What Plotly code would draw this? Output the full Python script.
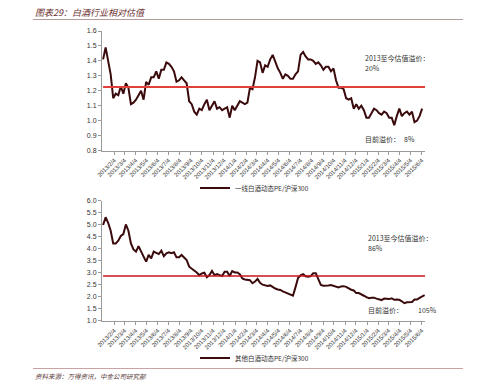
import pandas as pd
import plotly.graph_objects as go

# ---- data ----
tick_dates = pd.date_range("2013-01-04", "2015-06-04", freq="MS") + pd.Timedelta(days=3)
tick_labels = [f"{d.year}/{d.month}/4" for d in tick_dates]

top_name = "一线白酒动态PE/沪深300"
top_vals = [1.41,1.49,1.40,1.31,1.15,1.18,1.17,1.23,1.18,1.25,1.22,
            1.11,1.12,1.14,1.17,1.20,1.14,1.26,1.24,1.29,1.29,1.33,
            1.28,1.34,1.34,1.39,1.38,1.36,1.33,1.26,1.27,1.29,1.27,
            1.25,1.13,1.11,1.06,1.04,1.08,1.07,1.11,1.14,1.07,
            1.10,1.13,1.08,1.09,1.07,1.08,1.09,1.02,1.10,1.07,
            1.10,1.13,1.12,1.11,1.12,1.22,1.21,1.29,1.40,1.39,
            1.32,1.37,1.36,1.41,1.44,1.39,1.35,1.32,1.28,1.31,
            1.30,1.28,1.28,1.31,1.33,1.44,1.46,1.43,1.41,1.41,
            1.40,1.38,1.39,1.37,1.34,1.36,1.36,1.33,1.35,1.27,
            1.22,1.22,1.21,1.15,1.14,1.15,1.08,1.11,1.08,1.10,
            1.07,1.02,1.02,1.05,1.08,1.07,1.05,1.04,1.06,1.05,
            1.02,1.02,0.97,1.03,1.08,1.03,1.05,1.06,1.04,1.06,
            0.99,1.00,1.03,1.08]
top_avg = 1.225

bot_name = "其他白酒动态PE/沪深300"
bot_vals = [4.99,5.31,5.08,4.75,4.22,4.22,4.33,4.53,4.61,5.01,
            4.75,4.22,3.97,3.88,4.11,3.92,3.67,3.46,3.74,3.60,
            3.88,3.83,3.78,3.92,3.69,3.81,3.85,3.81,3.85,3.64,
            3.64,3.74,3.64,3.53,3.25,3.18,3.08,3.01,2.90,2.97,
            3.00,2.81,2.90,3.07,2.90,2.94,2.90,2.86,3.04,3.04,
            2.86,3.07,3.01,3.01,2.94,2.76,2.72,2.69,2.69,2.56,
            2.63,2.74,2.58,
            2.50,2.46,2.45,2.47,2.40,2.34,2.30,2.28,2.22,2.17,
            2.13,2.09,2.04,2.40,2.78,2.89,2.94,2.85,2.83,2.86,
            2.98,2.98,2.70,2.49,2.46,2.45,2.47,2.49,2.46,2.42,
            2.39,2.43,2.44,2.41,2.34,2.29,2.26,2.15,2.15,2.08,
            2.04,1.98,1.94,1.96,1.96,1.92,1.88,1.86,1.92,1.91,
            1.90,1.93,1.87,1.88,1.87,1.81,1.73,1.77,1.77,1.78,
            1.88,1.88,1.95,2.02,2.07]
bot_avg = 2.86

x_start, x_end = "2013-01-01", "2015-06-13"
avg_span = ["2013-01-04", "2015-06-13"]

top_dates = pd.date_range("2013-01-04", periods=len(top_vals), freq="7D")
bot_dates = pd.date_range("2013-01-04", periods=len(bot_vals), freq="7D")

CJK = "Noto Sans CJK SC"
LAT = "Liberation Sans, Arial"
line_col = "#3a0a0c"

fig = go.Figure()
fig.add_trace(go.Scatter(x=top_dates, y=top_vals, mode="lines", name=top_name,
                         line=dict(color=line_col, width=2), xaxis="x", yaxis="y",
                         legend="legend"))
fig.add_trace(go.Scatter(x=avg_span, y=[top_avg, top_avg], mode="lines", showlegend=False,
                         line=dict(color="#e2413b", width=2.2), xaxis="x", yaxis="y"))
fig.add_trace(go.Scatter(x=bot_dates, y=bot_vals, mode="lines", name=bot_name,
                         line=dict(color=line_col, width=2), xaxis="x2", yaxis="y2",
                         legend="legend2"))
fig.add_trace(go.Scatter(x=avg_span, y=[bot_avg, bot_avg], mode="lines", showlegend=False,
                         line=dict(color="#c8141e", width=1.5), xaxis="x2", yaxis="y2"))

xcommon = dict(type="date", range=[x_start, x_end], tickmode="array",
               tickvals=list(tick_dates), ticktext=tick_labels, tickangle=-45,
               tickfont=dict(family=LAT, size=6, color="#333"), automargin=False,
               showline=True, linecolor="#9a9a9a", linewidth=1,
               ticks="outside", ticklen=3, tickcolor="#9a9a9a",
               showgrid=False, zeroline=False)
ycommon = dict(showline=True, linecolor="#9a9a9a", linewidth=1, ticks="outside",
               ticklen=3, tickcolor="#9a9a9a", showgrid=False, zeroline=False,
               automargin=False,
               tickfont=dict(family=LAT, size=7, color="#333"), tickformat=".1f")

xd = [102/499, 425/499]
fig.update_layout(
    template="none",
    width=499, height=386, margin=dict(l=0, r=0, t=0, b=0, autoexpand=False),
    paper_bgcolor="white", plot_bgcolor="white",
    xaxis=dict(domain=xd, anchor="y", **xcommon),
    yaxis=dict(domain=[(386-150.5)/386, (386-31)/386], range=[0.8, 1.6], dtick=0.1,
               anchor="x", **ycommon),
    xaxis2=dict(domain=xd, anchor="y2", **xcommon),
    yaxis2=dict(domain=[(386-320.7)/386, (386-200.7)/386], range=[1.0, 6.0], dtick=0.5,
                anchor="x2", **ycommon),
    legend=dict(x=195/499, y=(386-188)/386, xanchor="left", yanchor="middle",
                font=dict(family=CJK, size=6.5, color="#333"), bgcolor="rgba(0,0,0,0)"),
    legend2=dict(x=195/499, y=(386-358)/386, xanchor="left", yanchor="middle",
                 font=dict(family=CJK, size=6.5, color="#333"), bgcolor="rgba(0,0,0,0)"),
    showlegend=True,
)

ann_font = dict(family=CJK, size=7, color="#333")
def add_text(x, y, text, font=ann_font, anchor="left"):
    fig.add_annotation(x=x/499, y=(386-y)/386, xref="paper", yref="paper", text=text,
                       showarrow=False, xanchor=anchor, yanchor="middle", font=font)

# title and footer
add_text(33, 12, "图表29：白酒行业相对估值",
         font=dict(family=CJK, size=9, color="#6e3030", style="italic"))
add_text(33, 376, "资料来源：万得资讯，中金公司研究部",
         font=dict(family=CJK, size=6.5, color="#5a3a3a", style="italic"))
fig.add_shape(type="line", xref="paper", yref="paper", x0=33/499, x1=463/499,
              y0=(386-19.5)/386, y1=(386-19.5)/386, line=dict(color="#b59a9a", width=1.2))
fig.add_shape(type="line", xref="paper", yref="paper", x0=33/499, x1=463/499,
              y0=(386-368.5)/386, y1=(386-368.5)/386, line=dict(color="#c9a3a3", width=1.2))

# premium notes
add_text(363, 58, "2013至今估值溢价：")
add_text(363, 68, "20%")
add_text(363, 139, "目前溢价：")
add_text(402, 139, "8%")
add_text(366, 238, "2013至今估值溢价：")
add_text(366, 248, "86%")
add_text(366, 310, "目前溢价：")
add_text(416, 310, "105%")

fig.write_html("out.html", config={"displayModeBar": False},
               post_script="document.body.style.margin='0';document.body.style.overflow='hidden';")
